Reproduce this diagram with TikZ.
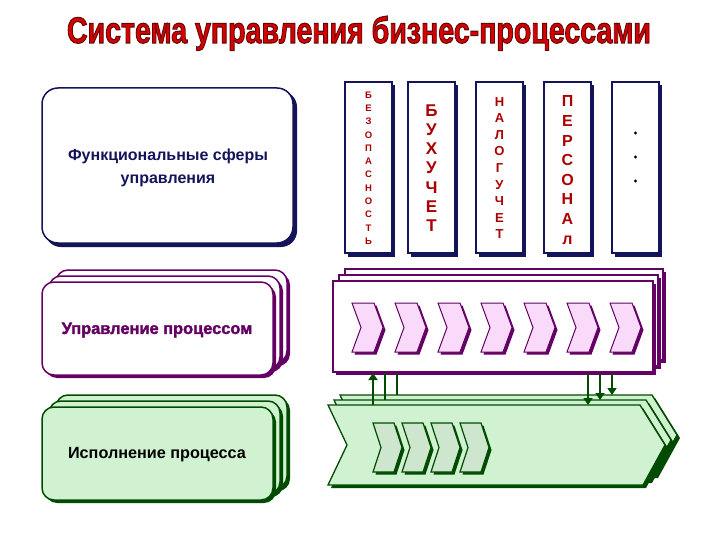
\documentclass[tikz,border=0pt]{standalone}
\usepackage{fontspec}
\usepackage{graphicx}
\setmainfont{Liberation Sans}
\newfontfamily\titlefont[BoldFeatures={FakeBold=3}]{Liberation Sans}
\newfontfamily\heavyfont[BoldFeatures={FakeBold=2}]{Liberation Sans}
\usetikzlibrary{arrows.meta}
\definecolor{navy}{RGB}{20,20,90}
\definecolor{dred}{RGB}{170,0,0}
\definecolor{tred}{RGB}{215,0,0}
\definecolor{purp}{RGB}{100,0,100}
\definecolor{pinkf}{RGB}{250,218,250}
\definecolor{dgreen}{RGB}{0,75,0}
\definecolor{lgreen}{RGB}{208,242,208}
\definecolor{mgreen}{RGB}{205,230,205}
\tikzset{
  colbox/.style={draw=navy,line width=1.5pt,fill=white},
  colshadow/.style={fill=navy},
  coltext/.style={text=dred,align=center,font=\bfseries},
  conn/.style={draw=dgreen,line width=1.8pt},
  connarrow/.style={conn,-{Triangle[width=9pt,length=7pt]}},
}
\begin{document}
\begin{tikzpicture}[x=1pt,y=-1pt]
\useasboundingbox (0,0) rectangle (720,540);
\fill[white] (0,0) rectangle (720,540);

% title (red fill with dark outline)
\node[anchor=base,text=tred,inner sep=0] (title) at (359,43) {\resizebox{584pt}{27pt}{\titlefont\bfseries\special{pdf:literal direct 2 Tr 0.8 w 0.4 0.03 0.03 RG}Система управления бизнес-процессами\special{pdf:literal direct 0 Tr}}};

% functional spheres box
\fill[navy,rounded corners=16] (45,91) rectangle (297,247);
\draw[navy,line width=1.5pt,fill=white,rounded corners=16] (42,88) rectangle (293,243);
\node[text=navy,align=center,font=\fontsize{16}{23}\selectfont\bfseries] (func) at (168,168) {Функциональные сферы\\управления};

% columns
\foreach \cx in {345,408,476,544,612}{
  \fill[colshadow] (\cx+3,85) rectangle (\cx+50,257);
  \draw[colbox] (\cx,82) rectangle (\cx+47,253);
}
\node[coltext,font=\fontsize{9.5}{13.3}\selectfont\bfseries] (c1) at (368.5,168) {Б\\Е\\З\\О\\П\\А\\С\\Н\\О\\С\\Т\\Ь};
\node[coltext,font=\fontsize{17}{19.2}\selectfont\bfseries] (c2) at (431.5,168) {Б\\У\\Х\\У\\Ч\\Е\\Т};
\node[coltext,font=\fontsize{13}{16.6}\selectfont\bfseries] (c3) at (499.5,168) {Н\\А\\Л\\О\\Г\\У\\Ч\\Е\\Т};
\node[coltext,font=\fontsize{16}{19.6}\selectfont\bfseries] (c4) at (567.5,170) {П\\Е\\Р\\С\\О\\Н\\А\\л};
\foreach \dy/\nm in {133/d1,157/d2,181/d3}{
  \fill (635.5,\dy) circle (1.6) coordinate (\nm);
}

% process management box (stacked rounded)
\foreach \k in {2,1,0}{
  \fill[purp,rounded corners=12] (42+7*\k+3,282-6*\k+3) rectangle (273+7*\k+3,375-6*\k+3);
  \draw[purp,line width=1.5pt,fill=white,rounded corners=12] (42+7*\k,282-6*\k) rectangle (273+7*\k,375-6*\k);
}
\node[text=purp,font=\fontsize{16.4}{18}\heavyfont\bfseries] (mgmt) at (157,330) {Управление процессом};

% execution box (stacked rounded)
\foreach \k in {2,1,0}{
  \fill[dgreen,rounded corners=12] (42+7*\k+3,407-6*\k+3) rectangle (273+7*\k+3,500-6*\k+3);
  \draw[dgreen,line width=1.5pt,fill=lgreen,rounded corners=12] (42+7*\k,407-6*\k) rectangle (273+7*\k,500-6*\k);
}
\node[text=black,font=\fontsize{16.2}{18}\selectfont\bfseries] (exec) at (157,455) {Исполнение процесса};

% process box (stacked rectangles)
\foreach \k in {2,1,0}{
  \fill[purp] (333+6*\k+3,281-6*\k+3) rectangle (653+5*\k+3,372-6*\k+3);
  \draw[purp,line width=1.5pt,fill=white] (333+6*\k,281-6*\k) rectangle (653+5*\k,372-6*\k);
}
\coordinate (pboxL1) at (373,373);
\coordinate (pboxL2) at (385,373);
\coordinate (pboxL3) at (397,373);
\coordinate (pboxR1) at (588,374);
\coordinate (pboxR2) at (600,374);
\coordinate (pboxR3) at (612,374);

% pink chevrons
\foreach \i in {0,...,6}{
  \pgfmathsetmacro\xo{352+43*\i}
  \fill[purp] (\xo+2.5,305.5) -- (\xo+24.5,305.5) -- (\xo+33.5,330) -- (\xo+24.5,354.5) -- (\xo+2.5,354.5) -- (\xo+11.5,330) -- cycle;
  \draw[purp,line width=1pt,fill=pinkf] (\xo,303) -- (\xo+22,303) -- (\xo+31,327.5) -- (\xo+22,352) -- (\xo,352) -- (\xo+9,327.5) -- cycle;
}

% big execution chevron (stacked)
\foreach \k in {2,1,0}{
  \pgfmathsetmacro\dx{6*\k}
  \pgfmathsetmacro\dy{-5*\k}
  \fill[dgreen] (328+\dx+3,405+\dy+3) -- (640+\dx+3,405+\dy+3) -- (665+\dx+3,445+\dy+3) -- (643+\dx+3,485+\dy+3) -- (328+\dx+3,485+\dy+3) -- (347+\dx+3,445+\dy+3) -- cycle;
  \draw[dgreen,line width=1.3pt,fill=lgreen] (328+\dx,405+\dy) -- (640+\dx,405+\dy) -- (665+\dx,445+\dy) -- (643+\dx,485+\dy) -- (328+\dx,485+\dy) -- (347+\dx,445+\dy) -- cycle;
}
\coordinate (chevF1) at (373,405);
\coordinate (chevM) at (385,400);
\coordinate (chevB) at (397,395);
\coordinate (chevF2) at (588,405);
\coordinate (chevM2) at (600,400);
\coordinate (chevB2) at (612,395);

% small green chevrons
\foreach \i in {0,...,3}{
  \pgfmathsetmacro\xo{373+29*\i}
  \fill[dgreen] (\xo+2.5,425.5) -- (\xo+23.5,425.5) -- (\xo+31.5,450) -- (\xo+23.5,474.5) -- (\xo+2.5,474.5) -- (\xo+10.5,450) -- cycle;
  \draw[dgreen,line width=1.2pt,fill=mgreen] (\xo,423) -- (\xo+21,423) -- (\xo+29,447.5) -- (\xo+21,472) -- (\xo,472) -- (\xo+8,447.5) -- cycle;
}

% connectors
\draw[connarrow] (chevF1) -- (pboxL1);
\draw[conn] (pboxL2) -- (chevM);
\draw[conn] (pboxL3) -- (chevB);
\draw[connarrow] (pboxR1) -- (chevF2);
\draw[connarrow] (pboxR2) -- (chevM2);
\draw[connarrow] (pboxR3) -- (chevB2);
\end{tikzpicture}
\end{document}
